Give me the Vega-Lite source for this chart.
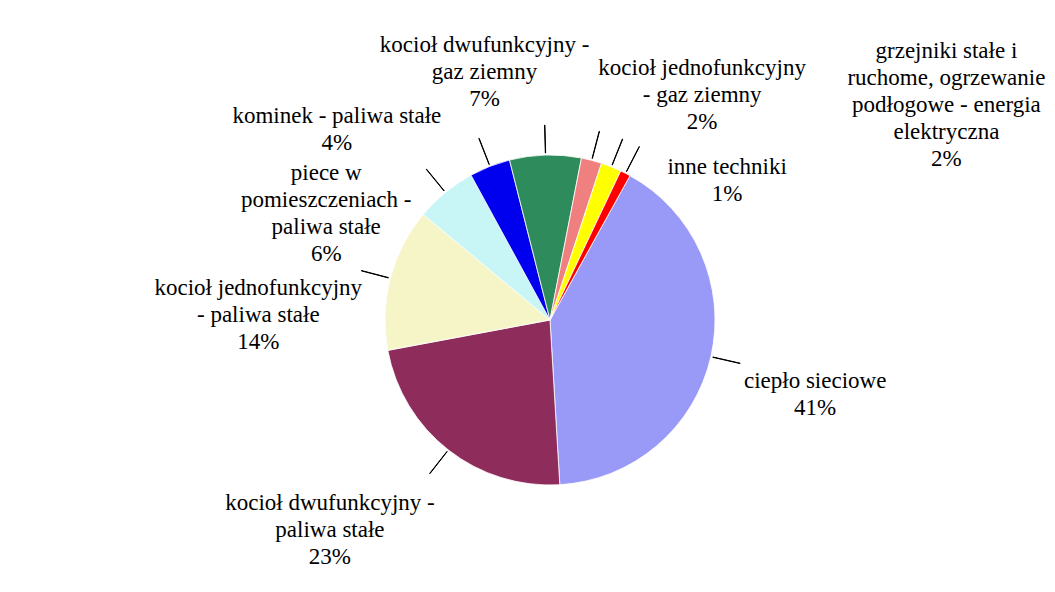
{
  "$schema": "https://vega.github.io/schema/vega-lite/v6.json",
  "width": 1010,
  "height": 544,
  "autosize": "none",
  "padding": {"left": 45, "top": 48, "right": 0, "bottom": 0},
  "background": "white",
  "config": {"view": {"stroke": null}},
  "data": {
    "values": [
      {"o": 1, "k": "ciepło sieciowe", "v": 41, "label": "ciepło sieciowe\n41%"},
      {"o": 2, "k": "kocioł dwufunkcyjny - paliwa stałe", "v": 23, "label": "kocioł dwufunkcyjny -\npaliwa stałe\n23%"},
      {"o": 3, "k": "kocioł jednofunkcyjny - paliwa stałe", "v": 14, "label": "kocioł jednofunkcyjny\n- paliwa stałe\n14%"},
      {"o": 4, "k": "piece w pomieszczeniach - paliwa stałe", "v": 6, "label": "piece w\npomieszczeniach -\npaliwa stałe\n6%"},
      {"o": 5, "k": "kominek - paliwa stałe", "v": 4, "label": "kominek - paliwa stałe\n4%"},
      {"o": 6, "k": "kocioł dwufunkcyjny - gaz ziemny", "v": 7, "label": "kocioł dwufunkcyjny -\ngaz ziemny\n7%"},
      {"o": 7, "k": "kocioł jednofunkcyjny - gaz ziemny", "v": 2, "label": "kocioł jednofunkcyjny\n- gaz ziemny\n2%"},
      {"o": 8, "k": "grzejniki stałe i ruchome, ogrzewanie podłogowe - energia elektryczna", "v": 2, "label": "grzejniki stałe i\nruchome, ogrzewanie\npodłogowe - energia\nelektryczna\n2%"},
      {"o": 9, "k": "inne techniki", "v": 1, "label": "inne techniki\n1%"}
    ]
  },
  "transform": [
    {"stack": "v", "groupby": [], "sort": [{"field": "o", "order": "ascending"}], "as": ["s0", "s1"]},
    {"calculate": "(datum.s0 + datum.s1) / 2", "as": "mid"},
    {"calculate": "datum.mid + 0.03", "as": "mid2"}
  ],
  "layer": [
    {
      "mark": {"type": "arc", "outerRadius": 165, "stroke": "#ffffff", "strokeWidth": 0.8},
      "encoding": {
        "theta": {"field": "s0", "type": "quantitative", "scale": {"domain": [0, 100], "range": [0.5061, 6.7893]}},
        "theta2": {"field": "s1"},
        "color": {
          "field": "k", "type": "nominal", "legend": null,
          "scale": {
            "domain": ["ciepło sieciowe", "kocioł dwufunkcyjny - paliwa stałe", "kocioł jednofunkcyjny - paliwa stałe", "piece w pomieszczeniach - paliwa stałe", "kominek - paliwa stałe", "kocioł dwufunkcyjny - gaz ziemny", "kocioł jednofunkcyjny - gaz ziemny", "grzejniki stałe i ruchome, ogrzewanie podłogowe - energia elektryczna", "inne techniki"],
            "range": ["#9999f7", "#8e2c5c", "#f5f5c8", "#c8f5f5", "#0000ee", "#2e8b5c", "#f08080", "#ffff00", "#ff0000"]
          }
        }
      }
    },
    {
      "mark": {"type": "arc", "innerRadius": 167, "outerRadius": 195, "stroke": "#000000", "strokeWidth": 1, "fill": "#000000"},
      "encoding": {
        "theta": {"field": "mid", "type": "quantitative", "scale": {"domain": [0, 100], "range": [0.5061, 6.7893]}},
        "theta2": {"field": "mid2"}
      }
    },
    {
      "transform": [{"filter": "datum.o == 1"}],
      "mark": {"type": "text", "radius": 195, "dx": 75, "dy": 18, "font": "Liberation Serif", "fontSize": 23, "lineHeight": 27, "lineBreak": "\n", "align": "center", "baseline": "middle", "color": "#000000"},
      "encoding": {"theta": {"field": "mid", "type": "quantitative", "stack": null}, "text": {"field": "label"}}
    },
    {
      "transform": [{"filter": "datum.o == 2"}],
      "mark": {"type": "text", "radius": 195, "dx": -100, "dy": 29, "font": "Liberation Serif", "fontSize": 23, "lineHeight": 27, "lineBreak": "\n", "align": "center", "baseline": "middle", "color": "#000000"},
      "encoding": {"theta": {"field": "mid", "type": "quantitative", "stack": null}, "text": {"field": "label"}}
    },
    {
      "transform": [{"filter": "datum.o == 3"}],
      "mark": {"type": "text", "radius": 195, "dx": -103, "dy": 17, "font": "Liberation Serif", "fontSize": 23, "lineHeight": 27, "lineBreak": "\n", "align": "center", "baseline": "middle", "color": "#000000"},
      "encoding": {"theta": {"field": "mid", "type": "quantitative", "stack": null}, "text": {"field": "label"}}
    },
    {
      "transform": [{"filter": "datum.o == 4"}],
      "mark": {"type": "text", "radius": 195, "dx": -100, "dy": 4, "font": "Liberation Serif", "fontSize": 23, "lineHeight": 27, "lineBreak": "\n", "align": "center", "baseline": "middle", "color": "#000000"},
      "encoding": {"theta": {"field": "mid", "type": "quantitative", "stack": null}, "text": {"field": "label"}}
    },
    {
      "transform": [{"filter": "datum.o == 5"}],
      "mark": {"type": "text", "radius": 195, "dx": -142, "dy": -22, "font": "Liberation Serif", "fontSize": 23, "lineHeight": 27, "lineBreak": "\n", "align": "center", "baseline": "middle", "color": "#000000"},
      "encoding": {"theta": {"field": "mid", "type": "quantitative", "stack": null}, "text": {"field": "label"}}
    },
    {
      "transform": [{"filter": "datum.o == 6"}],
      "mark": {"type": "text", "radius": 195, "dx": -60, "dy": -80, "font": "Liberation Serif", "fontSize": 23, "lineHeight": 27, "lineBreak": "\n", "align": "center", "baseline": "middle", "color": "#000000"},
      "encoding": {"theta": {"field": "mid", "type": "quantitative", "stack": null}, "text": {"field": "label"}}
    },
    {
      "transform": [{"filter": "datum.o == 7"}],
      "mark": {"type": "text", "radius": 195, "dx": 103, "dy": -63, "font": "Liberation Serif", "fontSize": 23, "lineHeight": 27, "lineBreak": "\n", "align": "center", "baseline": "middle", "color": "#000000"},
      "encoding": {"theta": {"field": "mid", "type": "quantitative", "stack": null}, "text": {"field": "label"}}
    },
    {
      "transform": [{"filter": "datum.o == 8"}],
      "mark": {"type": "text", "radius": 195, "dx": 324, "dy": -88, "font": "Liberation Serif", "fontSize": 23, "lineHeight": 27, "lineBreak": "\n", "align": "center", "baseline": "middle", "color": "#000000"},
      "encoding": {"theta": {"field": "mid", "type": "quantitative", "stack": null}, "text": {"field": "label"}}
    },
    {
      "transform": [{"filter": "datum.o == 9"}],
      "mark": {"type": "text", "radius": 195, "dx": 88, "dy": 20, "font": "Liberation Serif", "fontSize": 23, "lineHeight": 27, "lineBreak": "\n", "align": "center", "baseline": "middle", "color": "#000000"},
      "encoding": {"theta": {"field": "mid", "type": "quantitative", "stack": null}, "text": {"field": "label"}}
    }
  ]
}
